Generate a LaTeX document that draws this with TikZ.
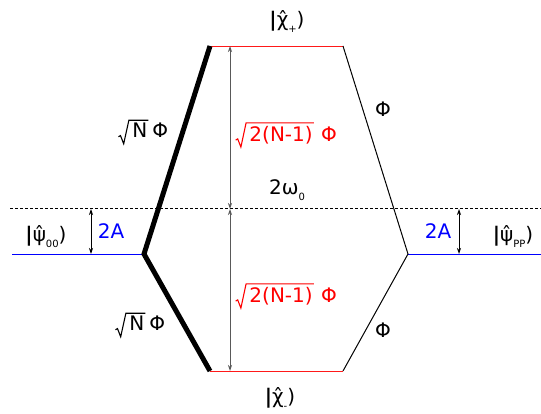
\documentclass[tikz,border=0pt]{standalone}
\usepackage{fontspec}
\setmainfont{DejaVu Sans}
\usetikzlibrary{arrows.meta}
\newcommand{\hatov}[1]{#1^^^^0302}
\newcommand{\kbar}{{\bfseries|}}
\newcommand{\lsub}[1]{\raisebox{-0.3em}{\fontsize{10}{10}\selectfont #1}}
\newcommand{\rad}[1]{\tikz[baseline=(t.base),x=1pt,y=1pt]{%
  \node[inner sep=0pt,anchor=base west] (t) at (0,0) {#1};
  \draw[line width=0.055em,line join=miter]
    ([xshift=-0.68em,yshift=0.05em]t.south west |- t.base) -- ++(0.1em,0.06em)
    -- ([xshift=-0.42em,yshift=-0.3em]t.south west |- t.base)
    -- ([xshift=-0.16em,yshift=0.14em]t.north west)
    -- ([xshift=0.05em,yshift=0.14em]t.north east);}}
\begin{document}
\begin{tikzpicture}[x=1pt,y=-1pt,
  lbl/.style={inner sep=0pt,font=\fontsize{20}{22}\selectfont},
  redlvl/.style={red!90!white,line width=0.8pt},
  bluelvl/.style={blue,line width=0.8pt},
  dim/.style={{Stealth[length=6pt,width=4pt]}-{Stealth[length=6pt,width=4pt]},gray!70!black,line width=0.8pt}]
\useasboundingbox (0,0) rectangle (541,414);
% coordinates
\coordinate (tl) at (210,46);
\coordinate (tr) at (343,46);
\coordinate (bl) at (210,371);
\coordinate (br) at (343,371);
\coordinate (ml) at (144,254);
\coordinate (mr) at (408,254);
\coordinate (bll) at (12,254);
\coordinate (brr) at (541,254);
\coordinate (dl) at (10,209);
\coordinate (dr) at (541,209);
\coordinate (at) at (230,46);
\coordinate (am) at (230,209);
\coordinate (ab) at (230,371);
\coordinate (la) at (91,209);
\coordinate (lb) at (91,254);
\coordinate (ra) at (459,209);
\coordinate (rb) at (459,254);
% levels
\draw[redlvl] (tl) -- (tr);
\draw[redlvl] (bl) -- (br);
\draw[bluelvl] (bll) -- (ml);
\draw[bluelvl] (mr) -- (brr);
\draw[dashed,dash pattern=on 3pt off 2pt,line width=1pt] (dl) -- (dr);
% couplings
\draw[line width=5pt] (tl) -- (ml) -- (bl);
\draw[line width=1pt] (tr) -- (mr) -- (br);
% arrows
\draw[dim] (at) -- (am);
\draw[dim] (am) -- (ab);
\draw[dim,black] (la) -- (lb);
\draw[dim,black] (ra) -- (rb);
% labels
\node[lbl] (kp) at (287,22) {\kbar\hatov{χ}\lsub{+})};
\node[lbl] (km) at (280,399) {\kbar\hatov{χ}\lsub{-})};
\node[lbl] (k00) at (46,237) {\kbar\hatov{ψ}\lsub{00})};
\node[lbl] (kpp) at (513,237) {\kbar\hatov{ψ}\lsub{PP})};
\node[lbl,blue] (a2l) at (111,231) {2A};
\node[lbl,blue] (a2r) at (438,231) {2A};
\node[lbl] (sn1) at (143,132) {\rad{N}\,Φ};
\node[lbl] (sn2) at (140,325) {\rad{N}\,Φ};
\node[lbl,red] (s21) at (286,135) {\rad{2(N-1)}\,\,Φ};
\node[lbl,red] (s22) at (286,296) {\rad{2(N-1)}\,\,Φ};
\node[lbl] (w0) at (287,190) {2ω\lsub{0}};
\node[lbl] (p1) at (383,109) {Φ};
\node[lbl] (p2) at (383,330) {Φ};
\end{tikzpicture}
\end{document}
